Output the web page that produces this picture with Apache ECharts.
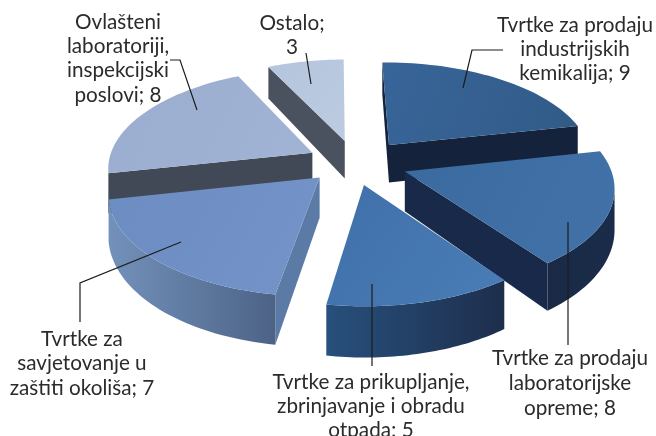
<!DOCTYPE html>
<html><head><meta charset="utf-8">
<style>html,body{margin:0;padding:0;background:#fff}#c{width:656px;height:436px}</style>
<script src="https://cdn.jsdelivr.net/npm/echarts@6/dist/echarts.min.js"></script>
</head><body><div id="c"></div>
<script>
const categories = ['Tvrtke za prodaju\nindustrijskih\nkemikalija','Tvrtke za prodaju\nlaboratorijske\nopreme','Tvrtke za prikupljanje,\nzbrinjavanje i obradu\notpada','Tvrtke za\nsavjetovanje u\nzaštiti okoliša','Ovlašteni\nlaboratoriji,\ninspekcijski\nposlovi','Ostalo'];
const values = [9,8,5,7,8,3];
const valueSeparators = [' ',' ',' ',' ',' ','\n'];

// geometry of the projected pie
const START=-2, CX=358, CY=162, RX=204, RY=98, PERSP=0.136, EXPLODE_X=0.25, EXPLODE_Y=0.228, DEPTH=39;
// calibration of the view: clock angle -> correction in degrees
const angleFix = [[-2,1],[79,-1],[150,-7],[195,-7],[260,-1],[330,3],[360,1]];
const topColors = [['#38659a','#315a86'],['#3a6a9e','#4272a8'],['#3f70aa','#4a7cb6'],['#6c8dc2','#7593c8'],['#9aadd0','#a2b4d4'],['#b4c5dd','#bccbe0']];
const arcWall = [['#14233b','#14233b'],['#1a2c4a','#1a2a45'],['#1e2e4c','#27507c'],['#4c6386','#7391bb'],['#414856','#414856'],['#4a525f','#4a525f']];
const cutWall = ['#14233b','#18294a','#1e2e4c','#5b7aa6','#414856','#4a525f'];
const drawOrder = [5,4,0,1,3,2];
const labelLayout = [
 {x:575,y:25,lh:24,line:[[463,88],[472,50],[503,50]]},
 {x:570,y:358,lh:25,line:[[568,222],[568,345]]},
 {x:371,y:382,lh:24,line:[[372,284],[372,366]]},
 {x:82,y:339,lh:24.5,line:[[181,242],[80,283],[80,322]]},
 {x:118,y:22,lh:24.3,line:[[197,110],[180,60],[170,60]]},
 {x:292,y:23,lh:24,line:[[311,84],[306,53]]}
];
const total = values.reduce((a,b)=>a+b,0);
const rad = d=>d*Math.PI/180;
function fix(d){
  for(let k=0;k<angleFix.length-1;k++){const A=angleFix[k],B=angleFix[k+1];
    if(d<=B[0]||k===angleFix.length-2){const t=(d-A[0])/(B[0]-A[0]);return d+A[1]+(B[1]-A[1])*t;}}
  return d;
}
function bounds(i){let a=START;for(let k=0;k<i;k++)a+=values[k]/total*360;return [a,a+values[i]/total*360];}
function project(X,Y){const p=1/(1-PERSP*Y);return {x:CX+RX*X*p,y:CY+RY*Y*p,d:DEPTH*Math.pow(p,1.5)};}
function hgrad(c){return new echarts.graphic.LinearGradient(0,0,1,0,[{offset:0,color:c[0]},{offset:1,color:c[1]}]);}
function vgrad(c){return new echarts.graphic.LinearGradient(0,0,1,1,[{offset:0,color:c[0]},{offset:1,color:c[1]}]);}
function renderSlice(params,api){
  const i=drawOrder[api.value(0)];
  const [a0,a1]=bounds(i), mid=(a0+a1)/2;
  const ex=EXPLODE_X*Math.sin(rad(mid)), ey=-EXPLODE_Y*Math.cos(rad(mid));
  const apex=project(ex,ey);
  const arc=[];const n=40;
  for(let k=0;k<=n;k++){const d=fix(a0+(a1-a0)*k/n);arc.push(project(ex+Math.sin(rad(d)),ey-Math.cos(rad(d))));}
  const first=arc[0],last=arc[n];
  const kids=[];
  const quad=(p,q,fill)=>kids.push({type:'polygon',shape:{points:[[p.x,p.y],[q.x,q.y],[q.x,q.y+q.d],[p.x,p.y+p.d]]},style:{fill}});
  if(first.x<apex.x)quad(apex,first,cutWall[i]);
  if(apex.x<last.x)quad(last,apex,cutWall[i]);
  let run=[];
  const flush=()=>{ if(run.length>1){
      const pts=run.map(p=>[p.x,p.y]).concat(run.slice().reverse().map(p=>[p.x,p.y+p.d]));
      kids.push({type:'polygon',shape:{points:pts},style:{fill:hgrad(arcWall[i].slice().reverse())}});
    } run=[]; };
  for(let k=0;k<n;k++){
    if(arc[k+1].x<arc[k].x){ if(!run.length)run.push(arc[k]); run.push(arc[k+1]); }
    else flush();
  }
  flush();
  kids.push({type:'polygon',shape:{points:[[apex.x,apex.y]].concat(arc.map(p=>[p.x,p.y]))},style:{fill:vgrad(topColors[i])}});
  return {type:'group',children:kids};
}
function renderLabel(params,api){
  const i=api.value(0), L=labelLayout[i];
  const lines=(categories[i]+';'+valueSeparators[i]+values[i]).split('\n');
  const kids=[{type:'polyline',shape:{points:L.line},style:{stroke:'#1c1c1c',lineWidth:1.2,fill:null}}];
  lines.forEach((t,k)=>kids.push({type:'text',style:{text:t,x:L.x,y:L.y+k*L.lh,align:'center',verticalAlign:'middle',fontFamily:'Lato',fontSize:20.7,fill:'#2b2b2b'}}));
  return {type:'group',children:kids};
}
const chart=echarts.init(document.getElementById('c'),null,{renderer:'canvas'});
chart.setOption({
  animation:false,backgroundColor:'#fff',
  series:[
    {type:'custom',coordinateSystem:'none',renderItem:renderSlice,data:drawOrder.map((_,k)=>[k]),silent:true,z:1},
    {type:'custom',coordinateSystem:'none',renderItem:renderLabel,data:categories.map((_,k)=>[k]),silent:true,z:2}
  ]
});
</script></body></html>
